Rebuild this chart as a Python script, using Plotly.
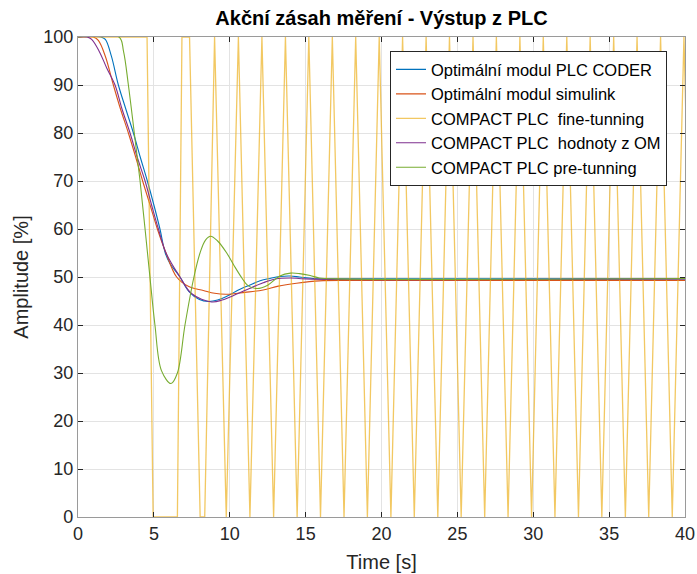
import plotly.graph_objects as go

# ---------------- data ----------------
coder_t = [0, 1.5, 1.8, 2.2, 2.66, 3.15, 3.65, 4.1, 4.57, 5.0, 5.4, 5.75, 6.06, 6.72, 7.3, 8.0, 8.6, 9.2, 10.0, 10.5, 11.3, 12.0, 12.65, 13.3, 14.0, 14.6, 15.5, 17.0, 40.0]
coder_y = [100, 100, 99.5, 96, 90, 85, 80, 75, 70, 65, 60, 55, 52.8, 50, 47, 45.3, 44.9, 45.2, 46.3, 47.2, 48.3, 49.2, 49.7, 50.1, 50.2, 50.0, 49.7, 49.6, 49.6]

sim_t = [0, 1.0, 1.34, 1.8, 2.33, 2.8, 3.32, 3.8, 4.26, 4.75, 5.23, 5.8, 6.5, 7.3, 8.26, 9.0, 9.8, 11.0, 12.2, 13.2, 14.4, 15.9, 18.0, 40.0]
sim_y = [100, 100, 99.3, 96, 90, 85, 80, 75, 70, 65, 60, 55, 50, 48, 47.2, 46.6, 46.4, 46.8, 47.3, 48.1, 48.7, 49.2, 49.3, 49.3]

fine_t = [0, 4.55, 4.95, 6.55, 6.85, 7.35, 8.05, 8.35, 9.0, 9.77, 10.57, 11.33,
          12.12, 12.89, 13.67, 14.44, 15.21, 15.98, 16.76, 17.53, 18.30, 19.07,
          19.85, 20.62, 21.39, 22.16, 22.94, 23.71, 24.48, 25.25, 26.03, 26.80,
          27.57, 28.34, 29.12, 29.89, 30.66, 31.43, 32.21, 32.98, 33.75, 34.52,
          35.30, 36.07, 36.84, 37.61, 38.39, 39.16, 39.93, 40.70]
fine_y = [100, 100, 0, 0, 100, 100, 0, 0, 100, 0, 100, 0,
          100, 0, 100, 0, 100, 0, 100, 0, 100, 0,
          100, 0, 100, 0, 100, 0, 100, 0, 100, 0,
          100, 0, 100, 0, 100, 0, 100, 0, 100, 0,
          100, 0, 100, 0, 100, 0, 100, 0]

om_t = [0, 0.6, 0.9, 1.4, 1.9, 2.44, 2.9, 3.43, 3.9, 4.42, 4.85, 5.3, 5.8, 6.72, 7.5, 8.8, 9.5, 10.5, 11.3, 12.2, 13.0, 14.0, 15.0, 40.0]
om_y = [100, 100, 99.5, 97, 93.5, 90, 85, 80, 75, 70, 65, 60, 55, 50, 46.5, 44.8, 45.2, 46.5, 47.6, 48.8, 49.6, 49.8, 49.6, 49.6]

pre_t = [0, 2.7, 3.0, 3.32, 3.71, 4.09, 4.42, 4.74, 5.07, 5.5, 6.13, 6.55, 7.05, 7.64, 8.04, 8.4, 8.74, 9.2, 9.8, 10.3, 10.8, 11.2, 11.8, 12.5, 13.3, 14.0, 14.6, 15.3, 15.9, 17.0, 40.0]
pre_y = [100, 100, 97, 90, 80, 70, 60, 50, 40, 30.5, 27.8, 30, 40, 50, 55, 57.7, 58.5, 57.5, 55.0, 52.3, 49.8, 48.2, 47.6, 48.3, 50.2, 50.8, 50.7, 50.3, 49.8, 49.6, 49.7]

names = ["Optimální modul PLC CODER", "Optimální modul simulink",
         "COMPACT PLC  fine-tunning", "COMPACT PLC  hodnoty z OM",
         "COMPACT PLC pre-tunning"]

x_ticks = [0, 5, 10, 15, 20, 25, 30, 35, 40]
y_ticks = [0, 10, 20, 30, 40, 50, 60, 70, 80, 90, 100]

# ---------------- figure ----------------
series = [
    (coder_t, coder_y, "#0072BD", 1.1, "spline"),
    (sim_t, sim_y, "#D95319", 1.1, "spline"),
    (fine_t, fine_y, "rgba(237,177,32,0.7)", 1.3, "linear"),
    (om_t, om_y, "#7E2F8E", 1.1, "spline"),
    (pre_t, pre_y, "#77AC30", 1.1, "spline"),
]

fig = go.Figure()
for (tx, ty, col, w, shp), nm in zip(series, names):
    fig.add_trace(go.Scatter(x=tx, y=ty, mode="lines", name=nm,
                             line=dict(color=col, width=w, shape=shp)))

FONT = "Liberation Sans, Arial, sans-serif"
axis_common = dict(
    showgrid=True, gridcolor="#e3e3e3", gridwidth=1,
    showline=True, linecolor="#9a9a9a", linewidth=1.2, mirror="ticks",
    ticks="inside", ticklen=5, tickwidth=1, tickcolor="#262626",
    tickfont=dict(family=FONT, size=18, color="#262626"),
    zeroline=False, automargin=False,
)

fig.update_layout(
    width=697, height=574,
    margin=dict(l=78, r=12, t=37, b=57),
    paper_bgcolor="white", plot_bgcolor="white",
    font=dict(family=FONT, color="#262626"),
    title=dict(text="<b>Akční zásah měření - Výstup z PLC</b>",
               x=0.5, xref="paper", xanchor="center",
               y=1 - 18 / 574, yref="container", yanchor="middle",
               font=dict(family=FONT, size=20, color="#000000")),
    xaxis=dict(range=[0, 40], tickvals=x_ticks,
               title=dict(text="Time [s]", font=dict(family=FONT, size=20, color="#262626"), standoff=12),
               **axis_common),
    yaxis=dict(range=[0, 100], tickvals=y_ticks,
               title=dict(text="Amplitude [%]", font=dict(family=FONT, size=20, color="#262626"), standoff=9),
               **axis_common),
    legend=dict(x=0.514, y=0.9705, xanchor="left", yanchor="top",
                bgcolor="white", bordercolor="#262626", borderwidth=1,
                font=dict(family=FONT, size=16.5, color="#000000"),
                tracegroupgap=0),
    showlegend=True,
)

fig.write_html("out.html")
